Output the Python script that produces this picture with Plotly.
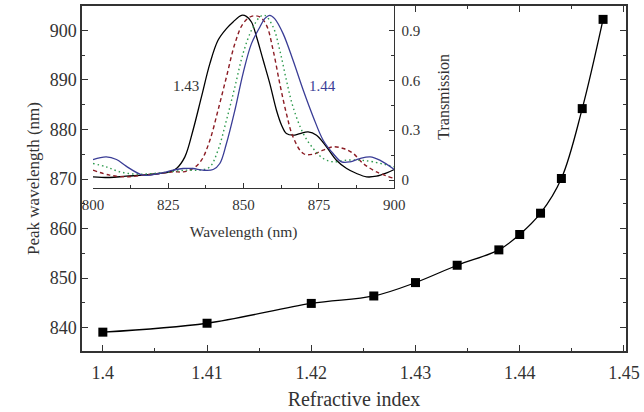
import plotly.graph_objects as go

# Main data
ri = [1.400, 1.410, 1.420, 1.426, 1.430, 1.434, 1.438, 1.440, 1.442, 1.444, 1.446, 1.448]
peak = [839.1, 840.9, 844.9, 846.4, 849.1, 852.6, 855.7, 858.8, 863.1, 870.1, 884.2, 902.2]

# Inset spectra
wl_black = [800, 805.5, 811, 816.6, 822, 825.5, 827.7, 830.5, 833.2, 836, 838.8, 841.5, 844.3, 846.5, 849.3, 850.9, 852.6, 854.3, 856.5, 858.7, 860.9, 862.6, 864.2, 866.4, 868.7, 871.4, 874.2, 877.5, 880.8, 884.2, 887.5, 890.8, 894.1, 897.5, 900]
t_black = [0.02, 0.016, 0.024, 0.03, 0.04, 0.05, 0.07, 0.14, 0.30, 0.50, 0.70, 0.84, 0.91, 0.95, 0.99, 0.984, 0.95, 0.86, 0.72, 0.58, 0.42, 0.33, 0.28, 0.27, 0.28, 0.29, 0.27, 0.20, 0.12, 0.07, 0.04, 0.02, 0.024, 0.044, 0.064]

wl_red = [800, 805.5, 811, 816.6, 822, 826.6, 829.9, 833.2, 836, 838.8, 841.5, 844.3, 847.1, 849.8, 852.6, 855.4, 857.6, 859.8, 862, 864.2, 866.4, 869.8, 873.1, 876.4, 879.7, 883.1, 886.4, 889.7, 894.1, 900]
t_red = [0.06, 0.03, 0.02, 0.03, 0.04, 0.05, 0.05, 0.07, 0.12, 0.24, 0.42, 0.62, 0.82, 0.94, 0.984, 0.98, 0.93, 0.78, 0.58, 0.40, 0.26, 0.16, 0.156, 0.18, 0.20, 0.19, 0.16, 0.10, 0.05, 0.01]

wl_green = [800, 804.4, 808.9, 814.4, 819.9, 825.5, 831, 835.4, 838.8, 841.5, 844.3, 847.1, 849.8, 852.6, 855.4, 857, 859.8, 862, 864.2, 866.4, 869.8, 873.1, 876.4, 879.7, 884.2, 888.6, 893, 900]
t_green = [0.10, 0.08, 0.05, 0.036, 0.04, 0.05, 0.06, 0.06, 0.08, 0.18, 0.36, 0.56, 0.76, 0.90, 0.98, 0.99, 0.92, 0.78, 0.60, 0.44, 0.28, 0.19, 0.13, 0.11, 0.12, 0.12, 0.11, 0.08]

wl_blue = [800, 804.4, 807.8, 811, 816.6, 822, 826.6, 829.9, 833.2, 836.5, 839.9, 842.1, 844.3, 847.1, 849.8, 852.6, 855.4, 857, 858.7, 860.3, 863.1, 866.4, 869.8, 873.1, 876.4, 879.7, 882.5, 885.3, 888.6, 892, 895.2, 900]
t_blue = [0.124, 0.14, 0.124, 0.084, 0.03, 0.04, 0.06, 0.07, 0.07, 0.06, 0.064, 0.10, 0.22, 0.42, 0.64, 0.82, 0.92, 0.97, 0.99, 0.97, 0.88, 0.72, 0.54, 0.38, 0.24, 0.16, 0.11, 0.11, 0.13, 0.14, 0.12, 0.064]

x_ticks = [1.40, 1.41, 1.42, 1.43, 1.44, 1.45]
x_tick_labels = ["1.4", "1.41", "1.42", "1.43", "1.44", "1.45"]
y_ticks = [840, 850, 860, 870, 880, 890, 900]
inset_x_ticks = [800, 825, 850, 875, 900]
inset_y_ticks = [0, 0.3, 0.6, 0.9]
inset_y_labels = ["0", "0.3", "0.6", "0.9"]

FONT = "Liberation Serif"
TXT = "#333333"
AX = "#333333"

fig = go.Figure()

fig.add_trace(go.Scatter(x=ri, y=peak, mode="lines+markers", line=dict(color="black", width=1.3, shape="spline"),
                         marker=dict(symbol="square", size=9, color="black"), xaxis="x", yaxis="y", showlegend=False))

fig.add_trace(go.Scatter(x=wl_black, y=t_black, mode="lines", line=dict(color="black", width=1.3, shape="spline"),
                         xaxis="x2", yaxis="y2", showlegend=False))
fig.add_trace(go.Scatter(x=wl_red, y=t_red, mode="lines", line=dict(color="#8b1c24", width=1.4, dash="4px,3px", shape="spline"),
                         xaxis="x2", yaxis="y2", showlegend=False))
fig.add_trace(go.Scatter(x=wl_green, y=t_green, mode="lines", line=dict(color="#2e9a4e", width=1.4, dash="1.5px,3px", shape="spline"),
                         xaxis="x2", yaxis="y2", showlegend=False))
fig.add_trace(go.Scatter(x=wl_blue, y=t_blue, mode="lines", line=dict(color="#3a3d96", width=1.3, shape="spline"),
                         xaxis="x2", yaxis="y2", showlegend=False))

fig.add_annotation(x=836, y=0.564, xref="x2", yref="y2", text="1.43", showarrow=False,
                   font=dict(family=FONT, size=15, color=TXT), xanchor="right")
fig.add_annotation(x=871, y=0.564, xref="x2", yref="y2", text="1.44", showarrow=False,
                   font=dict(family=FONT, size=15, color="#3a3d96"), xanchor="left")

fig.update_layout(
    width=644, height=412,
    margin=dict(l=82, r=18, t=6, b=61, autoexpand=False),
    plot_bgcolor="white", paper_bgcolor="white",
    font=dict(family=FONT, color=TXT),
    xaxis=dict(range=[1.398, 1.4502], tickvals=x_ticks, ticktext=x_tick_labels, automargin=False,
               ticks="inside", ticklen=6, tickwidth=1.2, tickcolor=AX, ticklabelstandoff=5,
               minor=dict(ticks="inside", dtick=0.005, ticklen=3, tickwidth=1, tickcolor=AX),
               showline=True, linecolor=AX, linewidth=1.5, mirror="ticks", showgrid=False, zeroline=False,
               tickfont=dict(size=18, family=FONT, color=TXT),
               title=dict(text="Refractive index", font=dict(size=20, family=FONT, color=TXT), standoff=10),
               domain=[0, 1]),
    yaxis=dict(range=[835.3, 904.9], tickvals=y_ticks, automargin=False,
               ticks="inside", ticklen=6, tickwidth=1.2, tickcolor=AX,
               minor=dict(ticks="inside", dtick=5, ticklen=3, tickwidth=1, tickcolor=AX),
               showline=True, linecolor=AX, linewidth=1.5, mirror="ticks", showgrid=False, zeroline=False,
               tickfont=dict(size=18, family=FONT, color=TXT),
               title=dict(text="Peak wavelength (nm)", font=dict(size=17, family=FONT, color=TXT), standoff=6),
               domain=[0, 1]),
    xaxis2=dict(domain=[0.0202, 0.574], anchor="y2", range=[800, 900], tickvals=inset_x_ticks, automargin=False,
                ticks="inside", ticklen=5, tickwidth=1.1, tickcolor=AX, ticklabelstandoff=3,
                minor=dict(ticks="inside", dtick=12.5, ticklen=3, tickwidth=1, tickcolor=AX),
                showline=True, linecolor=AX, linewidth=1.3, showgrid=False, zeroline=False,
                tickfont=dict(size=15, family=FONT, color=TXT),
                title=dict(text="Wavelength (nm)", font=dict(size=15.5, family=FONT, color=TXT), standoff=14)),
    yaxis2=dict(domain=[0.473, 1], anchor="x2", side="right", range=[-0.046, 1.046], automargin=False,
                tickvals=inset_y_ticks, ticktext=inset_y_labels, ticklabelstandoff=3,
                ticks="inside", ticklen=5, tickwidth=1.1, tickcolor=AX,
                minor=dict(ticks="inside", dtick=0.15, ticklen=3, tickwidth=1, tickcolor=AX),
                showline=True, linecolor=AX, linewidth=1.3, showgrid=False, zeroline=False,
                tickfont=dict(size=15, family=FONT, color=TXT),
                title=dict(text="Transmission", font=dict(size=16, family=FONT, color=TXT), standoff=18)),
)

fig.write_html("out.html", config={"displayModeBar": False},
               post_script="document.body.style.margin='0';")
